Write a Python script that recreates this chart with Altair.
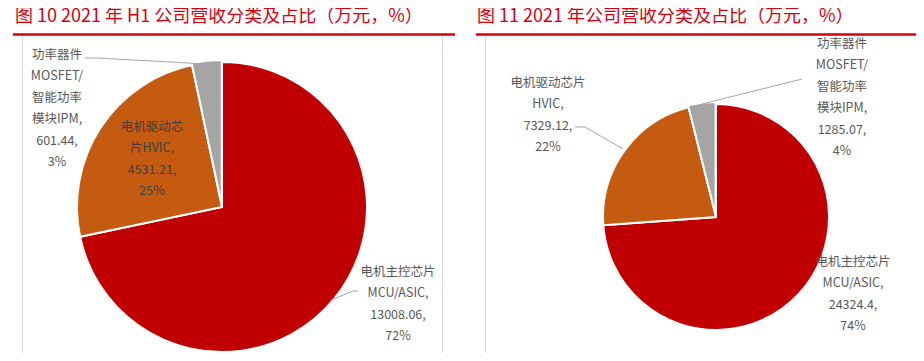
import math
import altair as alt
import pandas as pd

# ---------------- data ----------------
categories = ["电机主控芯片MCU/ASIC", "电机驱动芯片HVIC", "功率器件MOSFET/智能功率模块IPM"]
colors = ["#C00000", "#C55A11", "#A5A5A5"]

left_values = [13008.06, 4531.21, 601.44]
left_pcts = ["72%", "25%", "3%"]
left_value_labels = ["13008.06", "4531.21", "601.44"]
left_name_lines = [["电机主控芯片", "MCU/ASIC,"], ["电机驱动芯", "片HVIC,"], ["功率器件", "MOSFET/", "智能功率", "模块IPM,"]]

right_values = [24324.4, 7329.12, 1285.07]
right_pcts = ["74%", "22%", "4%"]
right_value_labels = ["24324.4", "7329.12", "1285.07"]
right_name_lines = [["电机主控芯片", "MCU/ASIC,"], ["电机驱动芯片", "HVIC,"], ["功率器件", "MOSFET/", "智能功率", "模块IPM,"]]

left_title = "图 10 2021 年 H1 公司营收分类及占比（万元，%）"
right_title = "图 11 2021 年公司营收分类及占比（万元，%）"

FONT = "Noto Sans CJK SC"
TITLE_RED = "#D7000F"
LABEL_GREY = "#595959"


def make_df(values, pcts, vlabels, names):
    total = sum(values)
    rows, acc = [], 0.0
    for i, (c, v, p, vl, nl) in enumerate(zip(categories, values, pcts, vlabels, names)):
        start = acc / total
        acc += v
        rows.append({
            "cat": c, "value": v, "idx": i,
            "start": start, "end": acc / total,
            "label": "\n".join(nl + [vl + ",", p]),
        })
    return pd.DataFrame(rows)


left_df = make_df(left_values, left_pcts, left_value_labels, left_name_lines)
right_df = make_df(right_values, right_pcts, right_value_labels, right_name_lines)

theta_scale = alt.Scale(domain=[0, 1], range=[0, 2 * math.pi])
color_scale = alt.Scale(domain=categories, range=colors)


def pie(df, cx, cy, r, explode_cat=None, shift=(0, 0)):
    layers = []
    base = alt.Chart(df)
    main = base
    if explode_cat is not None:
        main = base.transform_filter(alt.datum.cat != explode_cat)
    layers.append(
        main.mark_arc(radius=r, stroke="white", strokeWidth=2).encode(
            theta=alt.Theta("start:Q", scale=theta_scale),
            theta2="end:Q",
            color=alt.Color("cat:N", scale=color_scale, legend=None),
            x=alt.value(cx), y=alt.value(cy),
        )
    )
    if explode_cat is not None:
        layers.append(
            base.transform_filter(alt.datum.cat == explode_cat).mark_arc(
                radius=r, stroke="white", strokeWidth=2).encode(
                theta=alt.Theta("start:Q", scale=theta_scale),
                theta2="end:Q",
                color=alt.Color("cat:N", scale=color_scale, legend=None),
                x=alt.value(cx + shift[0]), y=alt.value(cy + shift[1]),
            )
        )
    return layers


def label(df, cat, x, y, color=LABEL_GREY):
    # y is the centre of the first line
    return alt.Chart(df).transform_filter(alt.datum.cat == cat).mark_text(
        font=FONT, fontSize=12.5, lineBreak="\n", lineHeight=21.4,
        align="center", baseline="middle", color=color,
    ).encode(text="label:N", x=alt.value(x), y=alt.value(y))


one = pd.DataFrame({"a": [0]})


def seg(x1, y1, x2, y2, color="#A6A6A6", w=1.0):
    return alt.Chart(one).mark_rule(color=color, strokeWidth=w).encode(
        x=alt.value(x1), y=alt.value(y1), x2=alt.value(x2), y2=alt.value(y2))


def title(text, x, y):
    return alt.Chart(one).mark_text(
        font=FONT, fontSize=18, color=TITLE_RED, align="left", baseline="top",
    ).encode(text=alt.value(text), x=alt.value(x), y=alt.value(y))


layers = []
# frame
layers += [
    seg(5, 26.5, 447, 26.5, color=TITLE_RED, w=2.5),
    seg(468, 26.5, 910, 26.5, color=TITLE_RED, w=2.5),
    seg(14.5, 28, 14.5, 345, color="#D9D9D9"),
    seg(434.5, 28, 434.5, 345, color="#D9D9D9"),
    seg(477.5, 28, 477.5, 345, color="#D9D9D9"),
    title(left_title, 7, 0),
    title(right_title, 469, 0),
]
# pies
layers += pie(left_df, 214, 199, 145, explode_cat=categories[2], shift=(-0.3, -2))
layers += pie(right_df, 708, 209, 113, explode_cat=categories[2], shift=(-0.4, -2))
# leader lines
layers += [
    seg(77, 50, 89, 50), seg(89, 50, 198, 56),
    seg(323, 292, 345, 283), seg(345, 283, 350, 283),
    seg(567, 119, 577, 119), seg(577, 119, 615, 141),
    seg(794, 71, 694, 96),
]
# labels (y = first line centre)
layers += [
    label(left_df, categories[2], 49, 47),
    label(left_df, categories[1], 144, 119, color="#404040"),
    label(left_df, categories[0], 390, 264),
    label(right_df, categories[1], 540, 75),
    label(right_df, categories[2], 834, 36),
    label(right_df, categories[0], 845, 254),
]

chart = alt.layer(*layers).properties(
    width=908, height=345,
    autosize=alt.AutoSizeParams(type="none"),
    padding=0, background="white",
).configure_view(stroke=None)

chart.save("out.html", embed_options={"renderer": "svg", "actions": False})
